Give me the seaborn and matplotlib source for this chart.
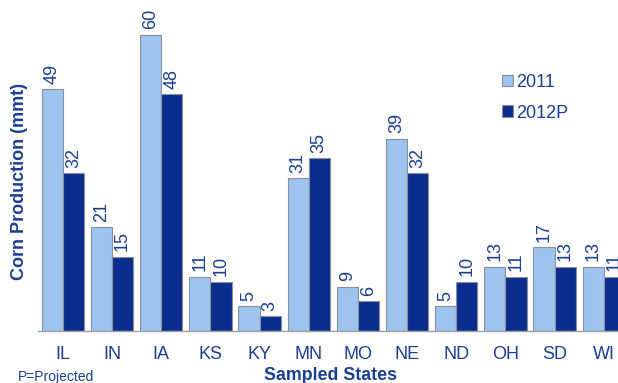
import numpy as np
import pandas as pd
import matplotlib
matplotlib.use("Agg")
import matplotlib.pyplot as plt
import seaborn as sns

states = ["IL", "IN", "IA", "KS", "KY", "MN", "MO", "NE", "ND", "OH", "SD", "WI"]
prod_2011 = [49, 21, 60, 11, 5, 31, 9, 39, 5, 13, 17, 13]
prod_2012 = [32, 15, 48, 10, 3, 35, 6, 32, 10, 11, 13, 11]
years = ["2011", "2012P"]

TEXT = "#1B3F94"
LIGHT = "#9DC3EE"
DARK = "#0B2E8E"

df = pd.DataFrame({
    "State": states * 2,
    "Production": prod_2011 + prod_2012,
    "Year": [years[0]] * len(states) + [years[1]] * len(states),
})

sns.set_style("white")
plt.rcParams["font.family"] = ["Liberation Sans", "DejaVu Sans"]

fig = plt.figure(figsize=(6.18, 3.83), dpi=100)
# axes runs past the right edge, as in the original (WI bar is clipped)
ax = fig.add_axes([38.3 / 618, 52 / 383, 590 / 618, 331 / 383])

sns.barplot(data=df, x="State", y="Production", hue="Year",
            palette=[LIGHT, DARK], width=0.86, saturation=1,
            edgecolor="#8A8F99", linewidth=0.8, ax=ax)

for cont in ax.containers:
    ax.bar_label(cont, rotation=90, padding=4, fontsize=13, color=TEXT)

ax.set_ylim(0, 67.1)
ax.set_xlim(-0.5, len(states) - 0.5)
ax.set_yticks([])
for s in ["top", "right", "left"]:
    ax.spines[s].set_visible(False)
ax.spines["bottom"].set_color("#A0A0A0")
ax.spines["bottom"].set_linewidth(1.0)

ax.set_xticks(np.arange(len(states)))
ax.set_xticklabels(states, fontsize=13, color=TEXT)
ax.tick_params(axis="x", which="major", length=0, pad=11)
ax.set_xticks(np.arange(len(states) + 1) - 0.5, minor=True)
ax.tick_params(axis="x", which="minor", length=5, color="#A0A0A0", width=1)

ax.set_xlabel("")
ax.set_ylabel("")
fig.text(331 / 618, 1 - 376 / 383, "Sampled States", ha="center", va="center",
         fontsize=12.8, fontweight="bold", color=TEXT)
fig.text(20 / 618, 1 - 181 / 383, "Corn Production (mmt)", rotation=90,
         ha="center", va="center", fontsize=13, fontweight="bold", color=TEXT)
fig.text(18 / 618, 1 - 377 / 383, "P=Projected", ha="left", va="center",
         fontsize=10, color=TEXT)

leg = ax.legend(loc="upper left", bbox_to_anchor=(455 / 590, 1 - 65 / 331),
                frameon=False, fontsize=13, handlelength=0.6, handleheight=0.6,
                handletextpad=0.15, labelspacing=0.75, borderpad=0)
for t in leg.get_texts():
    t.set_color(TEXT)

fig.savefig("out.png", dpi=100)
